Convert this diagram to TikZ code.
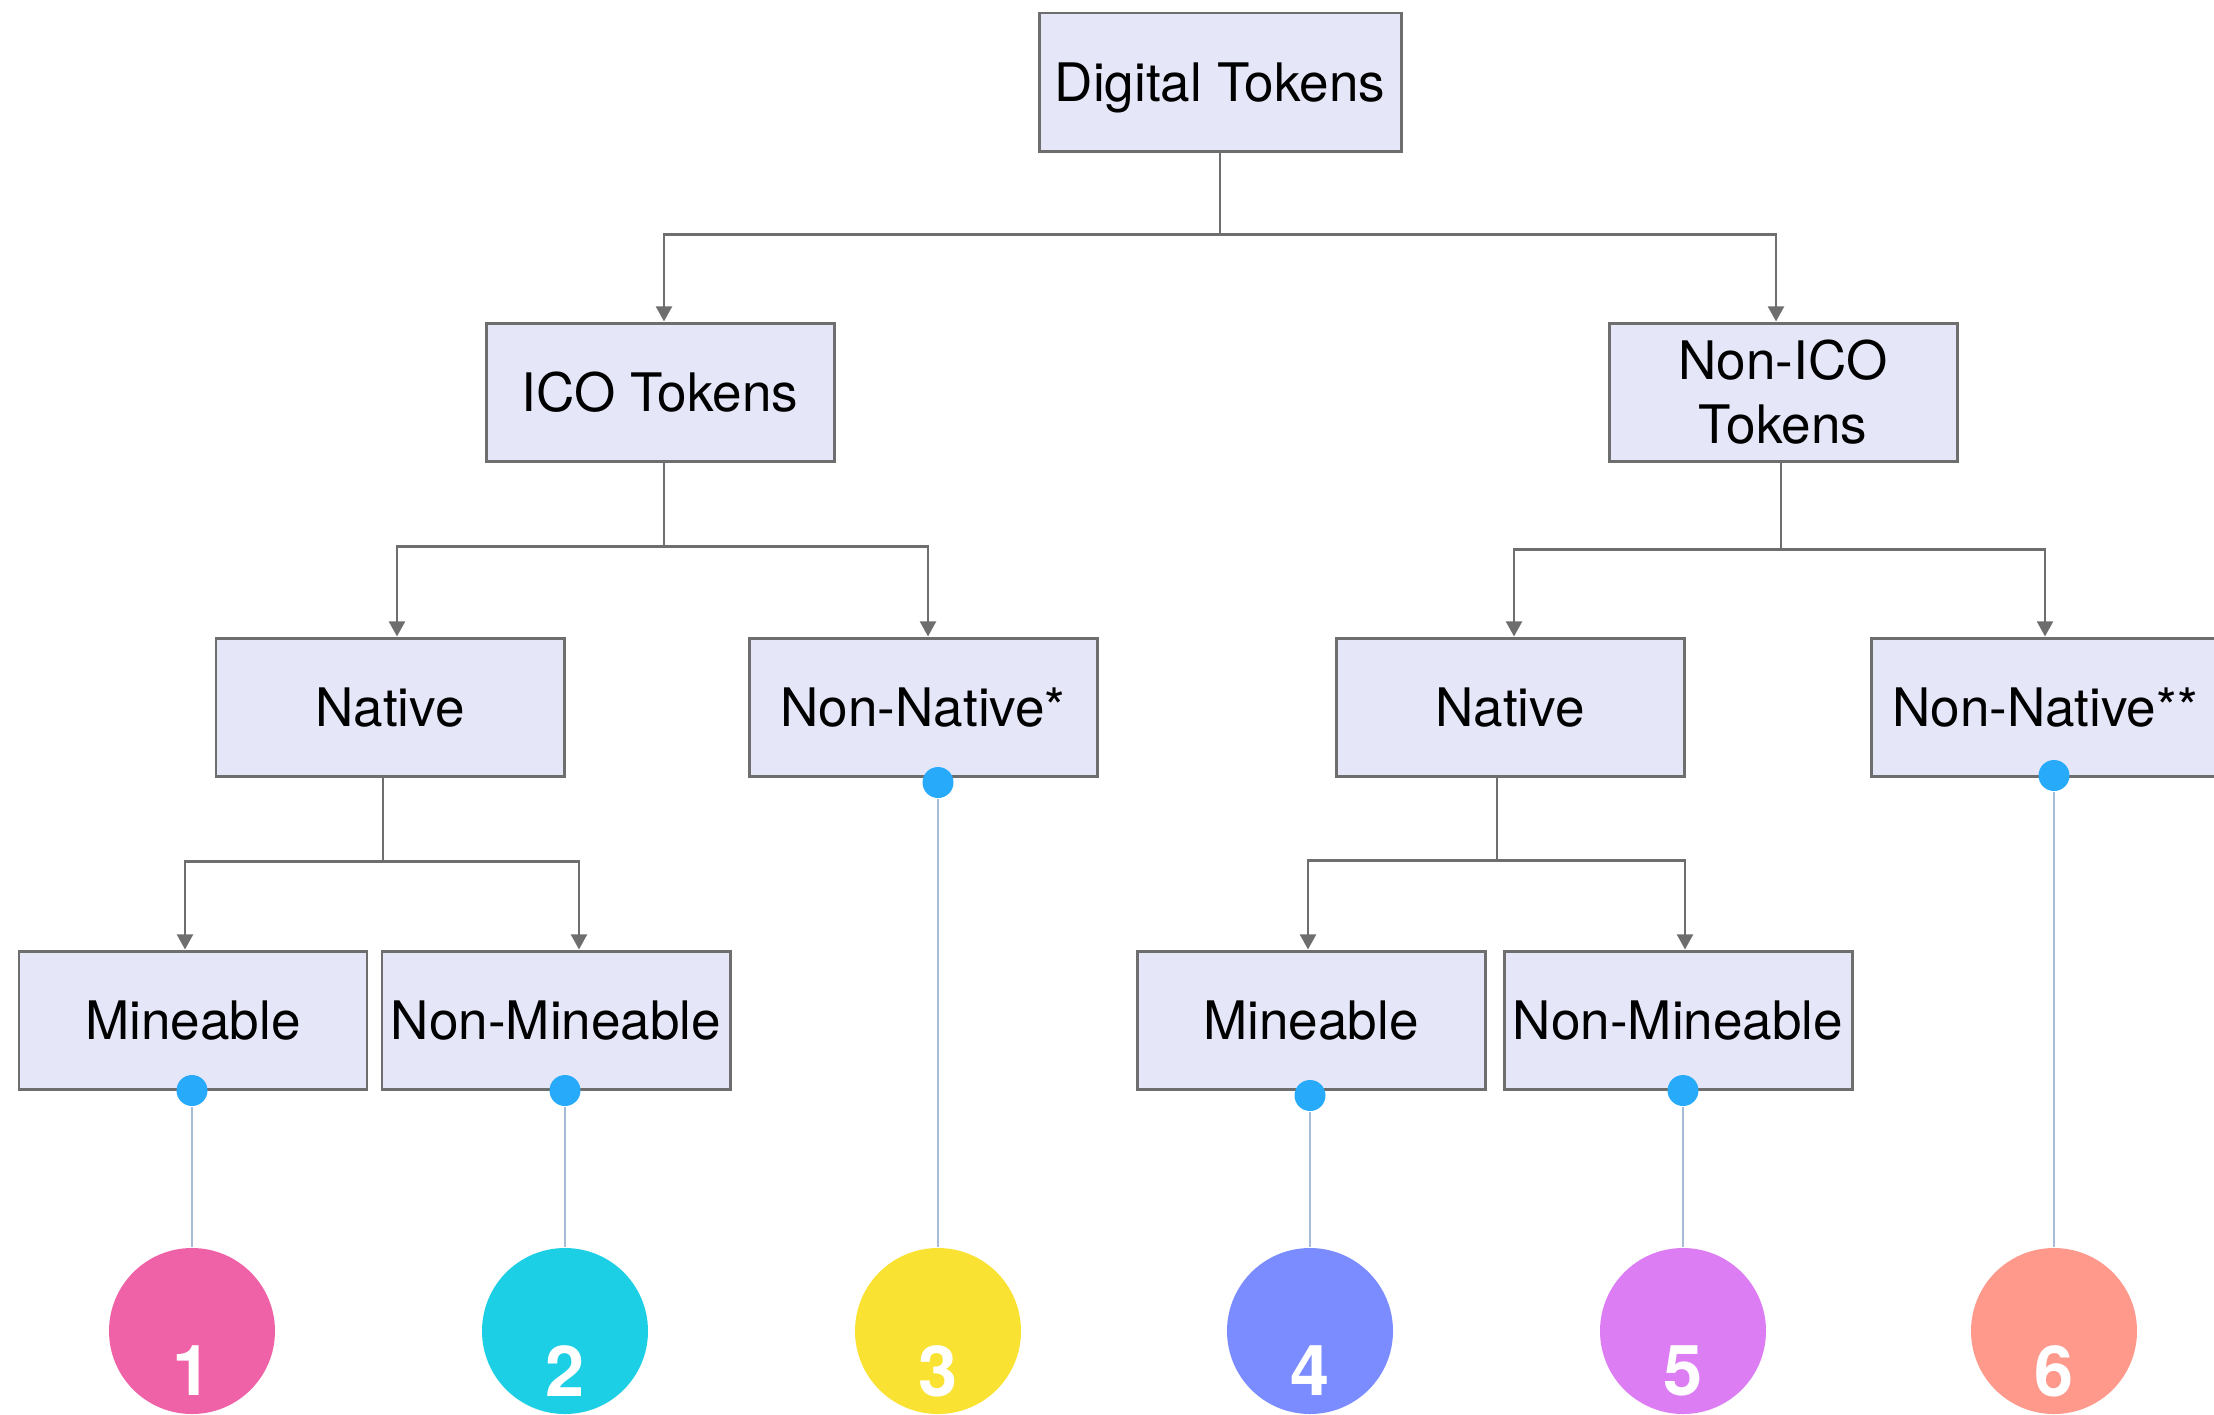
\documentclass[tikz,border=0pt]{standalone}
\usepackage{fontspec}
\setmainfont{TeX Gyre Heros}
\usetikzlibrary{arrows.meta}
\definecolor{boxfill}{HTML}{E5E6F8}
\definecolor{boxline}{HTML}{6E6E6E}
\definecolor{dotblue}{HTML}{27AAFA}
\definecolor{threadline}{HTML}{A7BCD6}
\definecolor{one}{HTML}{F062A8}
\definecolor{two}{HTML}{1DCFE4}
\definecolor{three}{HTML}{F9E231}
\definecolor{four}{HTML}{7A8CFF}
\definecolor{five}{HTML}{DC7DF3}
\definecolor{six}{HTML}{FF998C}
\tikzstyle{block}=[draw=boxline,fill=boxfill,rectangle,line width=0.85pt,minimum width=3.48cm,minimum height=1.38cm,inner sep=0pt,align=center,text height=10.85pt,text depth=0pt,font=\fontsize{15.1}{18.2}\selectfont]
\tikzstyle{dot}=[circle,fill=dotblue,minimum size=0.31cm,inner sep=0pt]
\tikzstyle{num}=[circle,minimum size=1.66cm,inner sep=0pt]
\tikzstyle{numtext}=[text=white,font=\fontsize{20}{24}\selectfont\bfseries,yshift=-0.4cm]
\tikzstyle{link}=[draw=boxline,line width=0.8pt]
\tikzstyle{thread}=[draw=threadline,line width=0.5pt]

\begin{document}
\begin{tikzpicture}[>={Triangle[width=4.5pt,length=4.3pt]}]
    \useasboundingbox (0,0) rectangle (22.14,-14.14);
    \node[block, minimum width=3.62cm] (dt) at (12.20,-0.82) {Digital Tokens};
    \node[block] (ico) at (6.60,-3.92) {ICO Tokens};
    \node[block, right of=ico, node distance=11.23cm, text height={}, text depth={}] (nonico) {Non-ICO\\Tokens};
    \node[block] (nat1) at (3.90,-7.07) {Native};
    \node[block, right of=nat1, node distance=5.33cm] (nn1) {Non-Native*};
    \node[block, right of=nn1, node distance=5.87cm] (nat2) {Native};
    \node[block, right of=nat2, node distance=5.35cm] (nn2) {Non-Native**};
    \node[block] (m1) at (1.93,-10.20) {Mineable};
    \node[block, right of=m1, node distance=3.63cm] (nm1) {Non-Mineable};
    \node[block, right of=nm1, node distance=7.55cm] (m2) {Mineable};
    \node[block, right of=m2, node distance=3.67cm] (nm2) {Non-Mineable};
    \draw[link,->] (dt.south) -- ++(0,-0.82) -| ([xshift=0.04cm]ico.north);
    \draw[link,->] (dt.south) -- ++(0,-0.82) -| ([xshift=-0.07cm]nonico.north);
    \draw[link,->] ([xshift=0.04cm]ico.south) -- ++(0,-0.84) -| ([xshift=0.07cm]nat1.north);
    \draw[link,->] ([xshift=0.04cm]ico.south) -- ++(0,-0.84) -| ([xshift=0.05cm]nn1.north);
    \draw[link,->] ([xshift=-0.02cm]nonico.south) -- ++(0,-0.87) -| ([xshift=0.04cm]nat2.north);
    \draw[link,->] ([xshift=-0.02cm]nonico.south) -- ++(0,-0.87) -| (nn2.north);
    \draw[link,->] ([xshift=-0.07cm]nat1.south) -- ++(0,-0.84) -| ([xshift=-0.08cm]m1.north);
    \draw[link,->] ([xshift=-0.07cm]nat1.south) -- ++(0,-0.84) -| ([xshift=0.23cm]nm1.north);
    \draw[link,->] ([xshift=-0.13cm]nat2.south) -- ++(0,-0.83) -| ([xshift=-0.03cm]m2.north);
    \draw[link,->] ([xshift=-0.13cm]nat2.south) -- ++(0,-0.83) -| ([xshift=0.07cm]nm2.north);
    \node[num, fill=one, label={[numtext]center:1}] (c1) at (1.92,-13.31) {};
    \node[num, fill=two, label={[numtext]center:2}] (c2) at (5.65,-13.31) {};
    \node[num, fill=three, label={[numtext]center:3}] (c3) at (9.38,-13.31) {};
    \node[num, fill=four, label={[numtext]center:4}] (c4) at (13.10,-13.31) {};
    \node[num, fill=five, label={[numtext]center:5}] (c5) at (16.83,-13.31) {};
    \node[num, fill=six, label={[numtext]center:6}] (c6) at (20.54,-13.31) {};
    \node[dot] (d1) at (c1 |- m1.south) {};
    \node[dot] (d2) at (c2 |- nm1.south) {};
    \node[dot] (d3) at ([yshift=-0.05cm]c3 |- nn1.south) {};
    \node[dot] (d4) at ([yshift=-0.05cm]c4 |- m2.south) {};
    \node[dot] (d5) at (c5 |- nm2.south) {};
    \node[dot] (d6) at ([yshift=0.02cm]c6 |- nn2.south) {};
    \draw[thread] (d1) -- (c1);
    \draw[thread] (d2) -- (c2);
    \draw[thread] (d3) -- (c3);
    \draw[thread] (d4) -- (c4);
    \draw[thread] (d5) -- (c5);
    \draw[thread] (d6) -- (c6);
\end{tikzpicture}
\end{document}
